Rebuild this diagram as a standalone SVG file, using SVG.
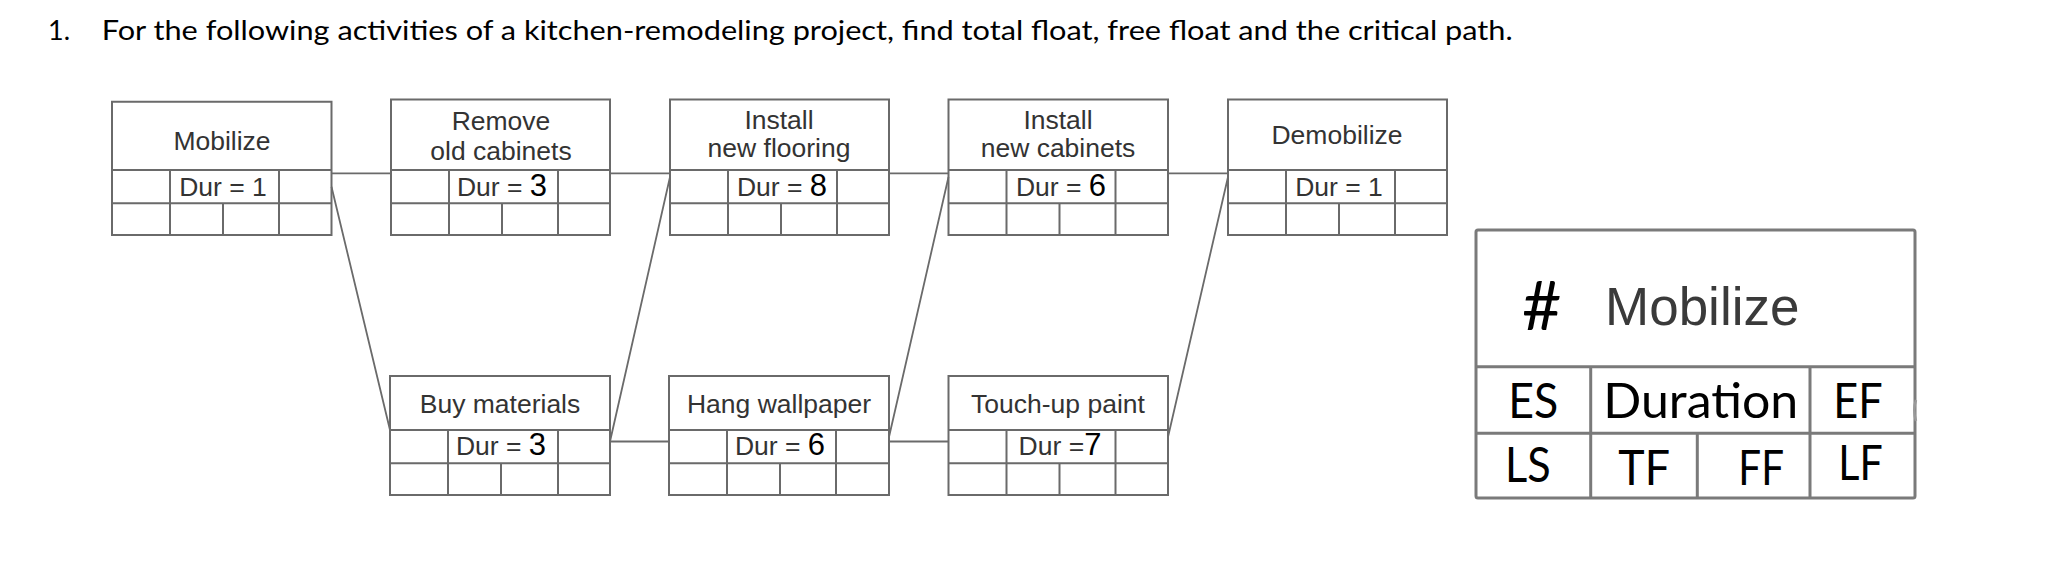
<svg xmlns="http://www.w3.org/2000/svg" width="2064" height="582" viewBox="0 0 2064 582">
<style>
.bx{fill:none;stroke:#6a6a6a;stroke-width:2}
.cn{fill:none;stroke:#6a6a6a;stroke-width:1.8}
.nt{font-family:"Liberation Sans",Arial,sans-serif;font-size:26.5px;fill:#333;text-anchor:middle}
.dg{font-size:31px;fill:#000}
.ttl{font-family:Lato,"Liberation Sans",sans-serif;font-size:27px;fill:#000}
.lg{fill:none;stroke:#7a7a7a;stroke-width:3}
.lt{font-family:Lato,"Liberation Sans",sans-serif;font-size:49px;fill:#000}
</style>
<rect width="2064" height="582" fill="#fff"/>
<g id="title">
<text class="ttl" x="48" y="39.5">1.</text>
<text class="ttl" x="101.7" y="39.5" textLength="1411" lengthAdjust="spacingAndGlyphs">For the following activities of a kitchen-remodeling project, find total float, free float and the critical path.</text>
</g>
<g id="connectors">
<path class="cn" d="M331.5 173.3H391M610 173.3H670M889 173.3H948.5M1168 173.3H1228M610 441.5H669M889 441.5H948.5"/>
<path class="cn" d="M331.5 186.7L390 430M610 441.5L670 177M889 437L948.5 177M1168 437L1228 177"/>
</g>
<g id="mobilize">
<path class="bx" d="M112 101.7H331.5V235H112ZM112 170H331.5M112 203.3H331.5M170 170V235M279 170V235M223 203.3V235"/>
<text class="nt" x="222" y="150">Mobilize</text>
<text class="nt" x="223" y="196">Dur = 1</text>
</g>
<g id="remove-old-cabinets">
<path class="bx" d="M391 99.5H610V235H391ZM391 170H610M391 203.3H610M449 170V235M558 170V235M502 203.3V235"/>
<text class="nt" x="501" y="130">Remove</text>
<text class="nt" x="501" y="160">old cabinets</text>
<text class="nt" x="502" y="196">Dur = <tspan class="dg">3</tspan></text>
</g>
<g id="install-new-flooring">
<path class="bx" d="M670 99.5H889V235H670ZM670 170H889M670 203.3H889M728 170V235M837 170V235M781 203.3V235"/>
<text class="nt" x="779" y="129">Install</text>
<text class="nt" x="779" y="157">new flooring</text>
<text class="nt" x="782" y="196">Dur = <tspan class="dg">8</tspan></text>
</g>
<g id="install-new-cabinets">
<path class="bx" d="M948.5 99.5H1168V235H948.5ZM948.5 170H1168M948.5 203.3H1168M1006.5 170V235M1115.5 170V235M1059.5 203.3V235"/>
<text class="nt" x="1058" y="129">Install</text>
<text class="nt" x="1058" y="157">new cabinets</text>
<text class="nt" x="1061" y="196">Dur = <tspan class="dg">6</tspan></text>
</g>
<g id="demobilize">
<path class="bx" d="M1228 99.5H1447V235H1228ZM1228 170H1447M1228 203.3H1447M1286 170V235M1395 170V235M1339 203.3V235"/>
<text class="nt" x="1337" y="144">Demobilize</text>
<text class="nt" x="1339" y="196">Dur = 1</text>
</g>
<g id="buy-materials">
<path class="bx" d="M390 376H610V495H390ZM390 430H610M390 463.3H610M448 430V495M558 430V495M501 463.3V495"/>
<text class="nt" x="500" y="413">Buy materials</text>
<text class="nt" x="501" y="455">Dur = <tspan class="dg">3</tspan></text>
</g>
<g id="hang-wallpaper">
<path class="bx" d="M669 376H889V495H669ZM669 430H889M669 463.3H889M727 430V495M836 430V495M780 463.3V495"/>
<text class="nt" x="779" y="413">Hang wallpaper</text>
<text class="nt" x="780" y="455">Dur = <tspan class="dg">6</tspan></text>
</g>
<g id="touch-up-paint">
<path class="bx" d="M948.5 376H1168V495H948.5ZM948.5 430H1168M948.5 463.3H1168M1006.5 430V495M1115.5 430V495M1059.5 463.3V495"/>
<text class="nt" x="1058" y="413">Touch-up paint</text>
<text class="nt" x="1060" y="455">Dur =<tspan class="dg">7</tspan></text>
</g>
<g id="legend">
<rect class="lg" x="1476" y="230" width="439" height="268" rx="2"/>
<path class="lg" d="M1476 366.7H1915M1476 433.3H1915M1590.7 366.7V498M1810 366.7V498M1697.3 433.3V498"/>
<path d="M1916 400Q1912.5 410 1916 421" fill="none" stroke="#999" stroke-width="2.5"/>
<text class="lt" x="1522" y="330" style="font-size:68px">#</text>
<text x="1605" y="325" style="font-family:'Liberation Sans',Arial,sans-serif;font-size:53px;fill:#3a3a3a">Mobilize</text>
<text class="lt" x="1508.3" y="418.3" textLength="50" lengthAdjust="spacingAndGlyphs">ES</text>
<text class="lt" x="1603.3" y="418.3" textLength="195" lengthAdjust="spacingAndGlyphs">Duration</text>
<text class="lt" x="1833.3" y="418.3" textLength="49.4" lengthAdjust="spacingAndGlyphs">EF</text>
<text class="lt" x="1505" y="481.7" textLength="45.7" lengthAdjust="spacingAndGlyphs">LS</text>
<text class="lt" x="1618.3" y="485" textLength="51.7" lengthAdjust="spacingAndGlyphs">TF</text>
<text class="lt" x="1738.3" y="485" textLength="45.7" lengthAdjust="spacingAndGlyphs">FF</text>
<text class="lt" x="1838.3" y="480" textLength="44.4" lengthAdjust="spacingAndGlyphs">LF</text>
</g>
</svg>
